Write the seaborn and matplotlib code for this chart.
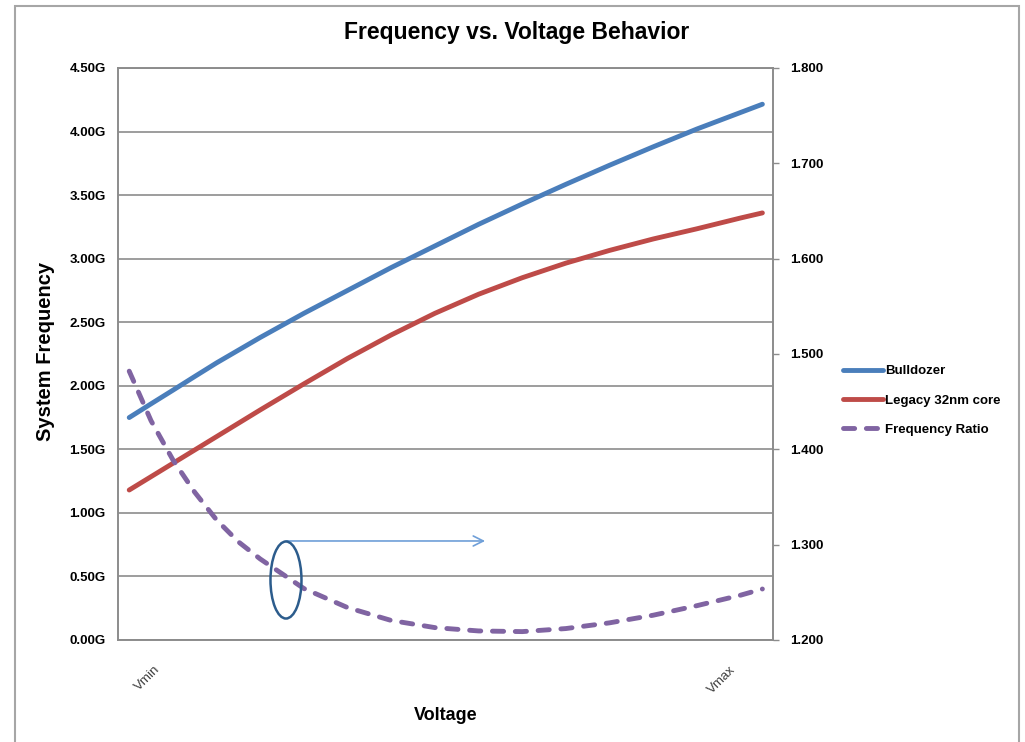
import numpy as np
import pandas as pd
import matplotlib
matplotlib.use("Agg")
import matplotlib.pyplot as plt
from matplotlib.lines import Line2D
from matplotlib.patches import Ellipse, Rectangle
import seaborn as sns

# ---- data ----
steps = [0, 1, 2, 3, 4, 5, 6, 8, 10, 12, 14, 16, 18, 20, 22, 24, 26, 28, 29]
bulldozer = [1.75, 1.858, 1.965, 2.073, 2.18, 2.28, 2.38, 2.57, 2.75, 2.93, 3.10,
             3.27, 3.43, 3.585, 3.735, 3.88, 4.02, 4.15, 4.215]
legacy = [1.18, 1.285, 1.39, 1.495, 1.60, 1.705, 1.81, 2.015, 2.215, 2.40, 2.57,
          2.72, 2.85, 2.965, 3.065, 3.155, 3.235, 3.32, 3.36]
ratio = [1.482, 1.430, 1.389, 1.355, 1.326, 1.303, 1.285, 1.254, 1.234, 1.2205,
         1.213, 1.2095, 1.2088, 1.212, 1.218, 1.226, 1.236, 1.247, 1.2535]
series_names = ["Bulldozer", "Legacy 32nm core", "Frequency Ratio"]
left_ticks = [0.0, 0.5, 1.0, 1.5, 2.0, 2.5, 3.0, 3.5, 4.0, 4.5]
right_ticks = [1.2, 1.3, 1.4, 1.5, 1.6, 1.7, 1.8]
x_labels = ["Vmin", "Vmax"]

BLUE = "#4a7ebb"
RED = "#be4b48"
PURPLE = "#8064a2"
GRID = "#8c8c8c"

sns.set_style("white")
plt.rcParams['font.family'] = ['Liberation Sans', 'DejaVu Sans']
plt.rcParams['text.color'] = 'black'
plt.rcParams['xtick.color'] = 'black'
plt.rcParams['ytick.color'] = 'black'
plt.rcParams['axes.labelcolor'] = 'black'

W, H = 1025, 742
fig = plt.figure(figsize=(W / 100, H / 100), dpi=100)
L, R, T, B = 118.3, 773.3, 68, 640
ax = fig.add_axes([L / W, 1 - B / H, (R - L) / W, (B - T) / H])
ax2 = ax.twinx()

df = pd.DataFrame({
    "step": steps * 2,
    "freq": bulldozer + legacy,
    "series": [series_names[0]] * len(steps) + [series_names[1]] * len(steps),
})
sns.lineplot(data=df, x="step", y="freq", hue="series", palette=[BLUE, RED],
             linewidth=3.5, ax=ax, legend=False, sort=False)
sns.lineplot(x=steps, y=ratio, ax=ax2, color=PURPLE, linewidth=3.5, legend=False)
for ln in ax.lines:
    ln.set_solid_capstyle("round")
    ln.set_solid_joinstyle("round")
pl = ax2.lines[0]
pl.set_linestyle((0, (2.3, 2.4)))
pl.set_dash_capstyle("round")
pl.set_dash_joinstyle("round")

ax.set_xlim(-0.5, 29.5)
ax.set_ylim(0, 4.5)
ax2.set_ylim(1.2, 1.8)

ax.set_yticks(left_ticks)
ax.set_yticklabels([f"{v:.2f}G" for v in left_ticks], fontweight="bold", fontsize=9.5)
ax2.set_yticks(right_ticks)
ax2.set_yticklabels([f"{v:.3f}" for v in right_ticks], fontweight="bold", fontsize=9.5)
ax.tick_params(axis="y", length=0, pad=9)
ax2.tick_params(axis="y", length=4, width=1, color=GRID, labelcolor="black",
                pad=8, direction="out")

ax.set_xticks([0.82, 27.15])
ax.set_xticklabels(x_labels, rotation=45, ha="center", fontsize=9.5, color="#404040")
ax.tick_params(axis="x", length=0, pad=17)

ax.yaxis.grid(True, color=GRID, linewidth=1.2)
ax.xaxis.grid(False)
for a in (ax, ax2):
    for s in a.spines.values():
        s.set_color(GRID)
        s.set_linewidth(1.2)

ax.set_xlabel("Voltage", fontweight="bold", fontsize=13)
ax.xaxis.set_label_coords(0.5, -0.117)
ax.set_ylabel("System Frequency", fontweight="bold", fontsize=14.5)
ax.yaxis.set_label_coords(-0.097, 0.505)
ax2.set_ylabel("")

fig.text(517 / W, 1 - 33 / H, "Frequency vs. Voltage Behavior", ha="center",
         va="center", fontsize=16.5, fontweight="bold")

# annotation: ellipse and arrow (in left-axis data coordinates)
ell = Ellipse((7.18, 0.472), 1.42, 0.606, transform=ax.transData, fill=False,
              ec="#2c5c8c", lw=1.8, zorder=5)
ax2.add_patch(ell)
ax2.annotate("", xy=(16.3, 0.779), xytext=(7.18, 0.779), xycoords=ax.transData,
             textcoords=ax.transData,
             arrowprops=dict(arrowstyle="->", color="#6f9fd8", lw=1.2,
                             mutation_scale=18, shrinkA=0, shrinkB=0))

handles = [
    Line2D([], [], color=BLUE, lw=3.5, solid_capstyle="round"),
    Line2D([], [], color=RED, lw=3.5, solid_capstyle="round"),
    Line2D([], [], color=PURPLE, lw=3.5, linestyle=(0, (2.3, 2.4)),
           dash_capstyle="round"),
]
fig.legend(handles, series_names, loc="upper left",
           bbox_to_anchor=(843 / W, 1 - 365 / H), frameon=False,
           prop={"weight": "bold", "size": 9.5}, handlelength=3.0,
           handletextpad=0.2, labelspacing=1.3, borderpad=0, borderaxespad=0)

fig.add_artist(Rectangle((15 / W, -0.1), (1019 - 15) / W, 1.1 - 6 / H,
                         transform=fig.transFigure, fill=False, ec="#a6a6a6",
                         lw=1.5))

fig.savefig("out.png", dpi=100)
